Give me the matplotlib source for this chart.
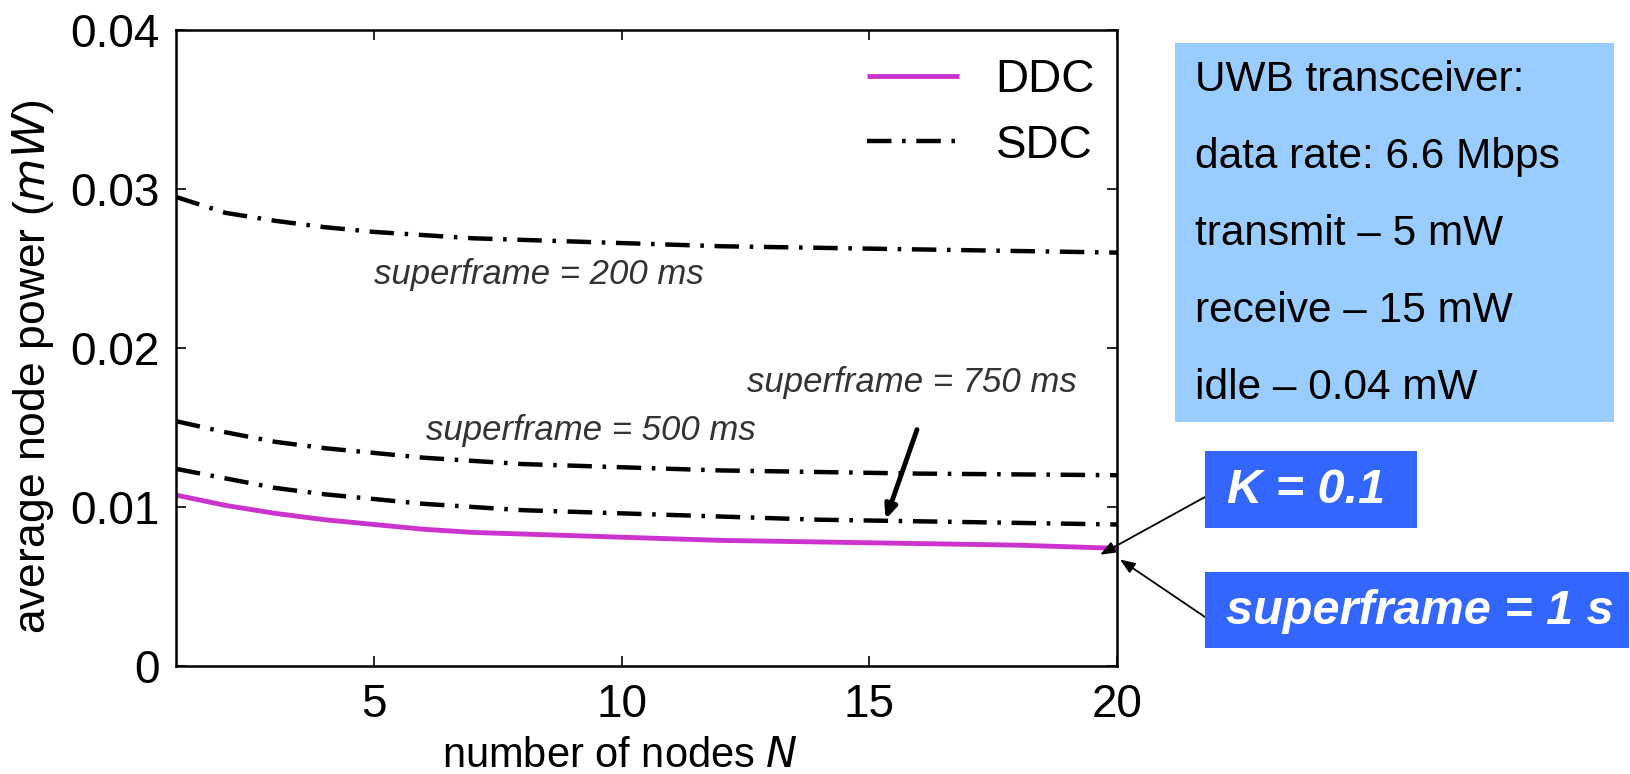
import matplotlib
matplotlib.use("Agg")
import matplotlib.pyplot as plt
from matplotlib.patches import Rectangle

plt.rcParams['font.family'] = ['Liberation Sans', 'DejaVu Sans']

# ---- data ----
N = [1, 2, 3, 4, 5, 6, 7, 8, 9, 10, 12, 14, 16, 18, 20]
ddc = [0.01075, 0.0101, 0.0096, 0.0092, 0.0089, 0.0086, 0.0084, 0.0083, 0.0082,
       0.0081, 0.0079, 0.0078, 0.0077, 0.0076, 0.0074]
sdc_200 = [0.0295, 0.0285, 0.0280, 0.0276, 0.0273, 0.0271, 0.0269, 0.0268, 0.0267,
           0.0266, 0.0264, 0.0263, 0.0262, 0.0261, 0.0260]
sdc_500 = [0.0154, 0.0147, 0.0141, 0.0137, 0.0134, 0.0131, 0.0129, 0.0127, 0.0126,
           0.0125, 0.0123, 0.0122, 0.0121, 0.01205, 0.0120]
sdc_750 = [0.0124, 0.0118, 0.0112, 0.0108, 0.0105, 0.0102, 0.0100, 0.0098, 0.0097,
           0.0096, 0.0094, 0.0092, 0.0091, 0.0090, 0.0089]
x_ticks = [5, 10, 15, 20]
y_ticks = [0, 0.01, 0.02, 0.03, 0.04]
y_tick_labels = ['0', '0.01', '0.02', '0.03', '0.04']
info_lines = ["UWB transceiver:", "data rate: 6.6 Mbps", "transmit \u2013 5 mW",
              "receive \u2013 15 mW", "idle \u2013 0.04 mW"]

W, H = 1631, 774
fig = plt.figure(figsize=(W / 100, H / 100), dpi=100)

def fx(x):
    return x / W

def fy(y):
    return 1 - y / H

L, R, T, B = 176, 1117, 30, 666
ax = fig.add_axes([fx(L), fy(B), fx(R) - fx(L), fy(T) - fy(B)])

dd = (0, (5.5, 2.4, 0.8, 2.4))
ax.plot(N, ddc, color='#CC33CC', lw=3.5, label='DDC', solid_capstyle='butt')
ax.plot(N, sdc_200, color='black', lw=3.2, ls=dd, label='SDC')
ax.plot(N, sdc_500, color='black', lw=3.2, ls=dd)
ax.plot(N, sdc_750, color='black', lw=3.2, ls=dd)

ax.set_xlim(1, 20)
ax.set_ylim(0, 0.04)
ax.set_xticks(x_ticks)
ax.set_yticks(y_ticks)
ax.set_yticklabels(y_tick_labels)
ax.tick_params(direction='in', length=7, width=1.2, top=True, right=True,
               labelsize=33, pad=12)
for s in ax.spines.values():
    s.set_linewidth(1.8)

ax.set_ylabel('average node power ($\\mathit{mW}$)', fontsize=32)
ax.yaxis.set_label_coords((56 - L) / (R - L), 1 - (367 - T) / (B - T))
ax.set_xlabel('number of nodes $\\mathit{N}$', fontsize=30)
ax.xaxis.set_label_coords((620 - L) / (R - L), -(736 - B) / (B - T))

leg = ax.legend(loc='upper right', frameon=False, fontsize=33,
                handlelength=2.0, handletextpad=0.8, labelspacing=0.47,
                borderpad=0, borderaxespad=0,
                bbox_to_anchor=((1095 - L) / (R - L), 1 - (58 - T) / (B - T)))

tkw = dict(fontsize=25, style='italic', color='#333333', ha='center', va='center')
ax.text(8.33, 0.0246, 'superframe = 200 ms', **tkw)
ax.text(15.86, 0.0178, 'superframe = 750 ms', **tkw)
ax.text(9.38, 0.01484, 'superframe = 500 ms', **tkw)
ax.annotate('', xy=(15.31, 0.00906), xytext=(15.98, 0.01503),
            arrowprops=dict(arrowstyle='-|>,head_length=0.8,head_width=0.35',
                            color='black', lw=3.5))

# info box
fig.patches.append(Rectangle((fx(1175), fy(422)), fx(1614) - fx(1175), fy(43) - fy(422),
                             transform=fig.transFigure, facecolor='#99CCFF',
                             edgecolor='none'))
for i, t in enumerate(info_lines):
    fig.text(fx(1195), fy(80 + i * 77), t, fontsize=30.5, color='black',
             ha='left', va='center')

# K box and superframe box
fig.patches.append(Rectangle((fx(1205), fy(528)), fx(1417) - fx(1205), fy(451) - fy(528),
                             transform=fig.transFigure, facecolor='#3366FF',
                             edgecolor='none'))
fig.text(fx(1227), fy(490), 'K = 0.1', fontsize=35, color='white',
         weight='bold', style='italic', ha='left', va='center')
fig.patches.append(Rectangle((fx(1205), fy(648)), fx(1629) - fx(1205), fy(572) - fy(648),
                             transform=fig.transFigure, facecolor='#3366FF',
                             edgecolor='none'))
fig.text(fx(1226), fy(612), 'superframe = 1 s', fontsize=35, color='white',
         weight='bold', style='italic', ha='left', va='center')

akw = dict(arrowstyle='-|>,head_length=0.9,head_width=0.35', color='black', lw=1.3,
           shrinkA=0, shrinkB=0)
ax.annotate('', xy=(19.66, 0.0070), xycoords='data',
            xytext=(fx(1205), fy(497)), textcoords='figure fraction',
            arrowprops=akw, annotation_clip=False)
ax.annotate('', xy=(20.06, 0.0067), xycoords='data',
            xytext=(fx(1205), fy(617)), textcoords='figure fraction',
            arrowprops=akw, annotation_clip=False)

fig.savefig('out.png', dpi=100)
